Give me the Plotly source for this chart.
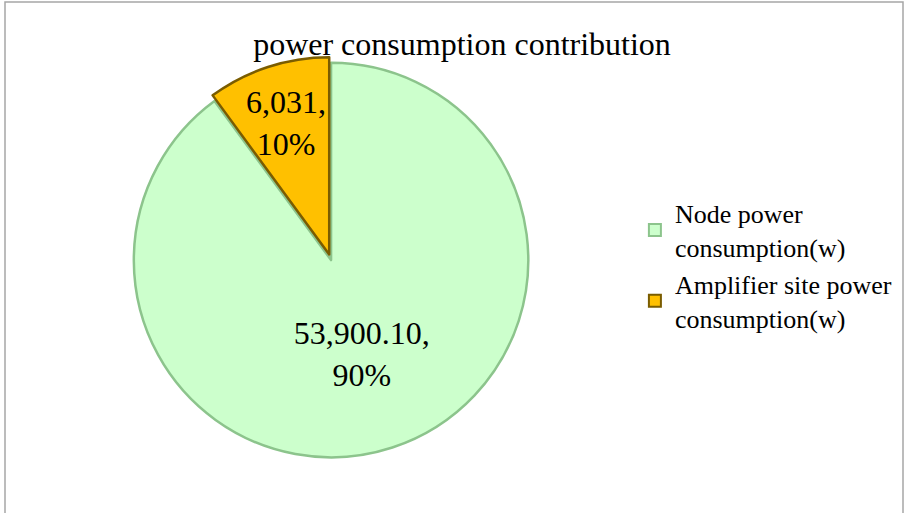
import math
import plotly.graph_objects as go

categories = ["Node power<br>consumption(w)", "Amplifier site power<br>consumption(w)"]
values = [53900.10, 6031]
value_labels = ["53,900.10", "6,031"]
pct_labels = ["90%", "10%"]

W, H = 907, 513
colors = ["#CCFFCC", "#FFC000"]
edge_colors = ["#8CC48C", "#7A5C00"]
pulls = [0, 0.03]
dom_x = [0.141, 0.589]
dom_y = [0.097, 0.889]

texts = [f"{v},<br>{p}" for v, p in zip(value_labels, pct_labels)]
# the small slice's label is placed as an annotation on the slice's mid-angle
# so that it keeps its full size (plotly would shrink it to fit)
pie_texts = [texts[0], ""]

fig = go.Figure(go.Pie(
    labels=categories,
    values=values,
    text=pie_texts,
    textinfo="text",
    textposition="inside",
    sort=False,
    direction="clockwise",
    rotation=0,
    pull=pulls,
    marker=dict(colors=colors, line=dict(color=edge_colors, width=2.5)),
    textfont=dict(family="Liberation Serif", size=32, color="black"),
    insidetextorientation="horizontal",
    domain=dict(x=dom_x, y=dom_y),
    hoverinfo="label+value+percent",
))

# geometry of the pie derived from its domain
cx = (dom_x[0] + dom_x[1]) / 2 * W
cy = (dom_y[0] + dom_y[1]) / 2 * H
R = min((dom_x[1] - dom_x[0]) * W, (dom_y[1] - dom_y[0]) * H) / 2 / (1 + max(pulls))
total = sum(values)
cum_before = sum(values[:1])
frac_mid = (cum_before + values[1] / 2) / total
ang = 2 * math.pi * frac_mid  # clockwise from 12 o'clock
r = R * (pulls[1] + 0.70)
ax = cx + r * math.sin(ang)
ay = cy + r * math.cos(ang)

fig.update_layout(
    width=W, height=H,
    margin=dict(l=0, r=0, t=0, b=0, pad=0, autoexpand=False),
    paper_bgcolor="white",
    title=dict(text="power consumption contribution", x=462/907, xanchor="center",
               y=1 - 44/513, yanchor="middle",
               font=dict(family="Liberation Serif", size=32, color="black")),
    legend=dict(x=0.700, y=0.630, xanchor="left", yanchor="top",
                font=dict(family="Liberation Serif", size=26, color="black"),
                itemsizing="constant"),
    annotations=[dict(text=texts[1], x=ax / W, y=ay / H, xref="paper", yref="paper",
                      xanchor="center", yanchor="middle", showarrow=False,
                      font=dict(family="Liberation Serif", size=32, color="black"))],
    shapes=[dict(type="rect", xref="paper", yref="paper",
                 x0=5/907, x1=903/907, y0=-0.02, y1=1 - 2/513,
                 line=dict(color="#A6A6A6", width=1.5))],
    showlegend=True,
)

fig.write_html("out.html", config={"displayModeBar": False},
               post_script="document.body.style.margin='0';")
